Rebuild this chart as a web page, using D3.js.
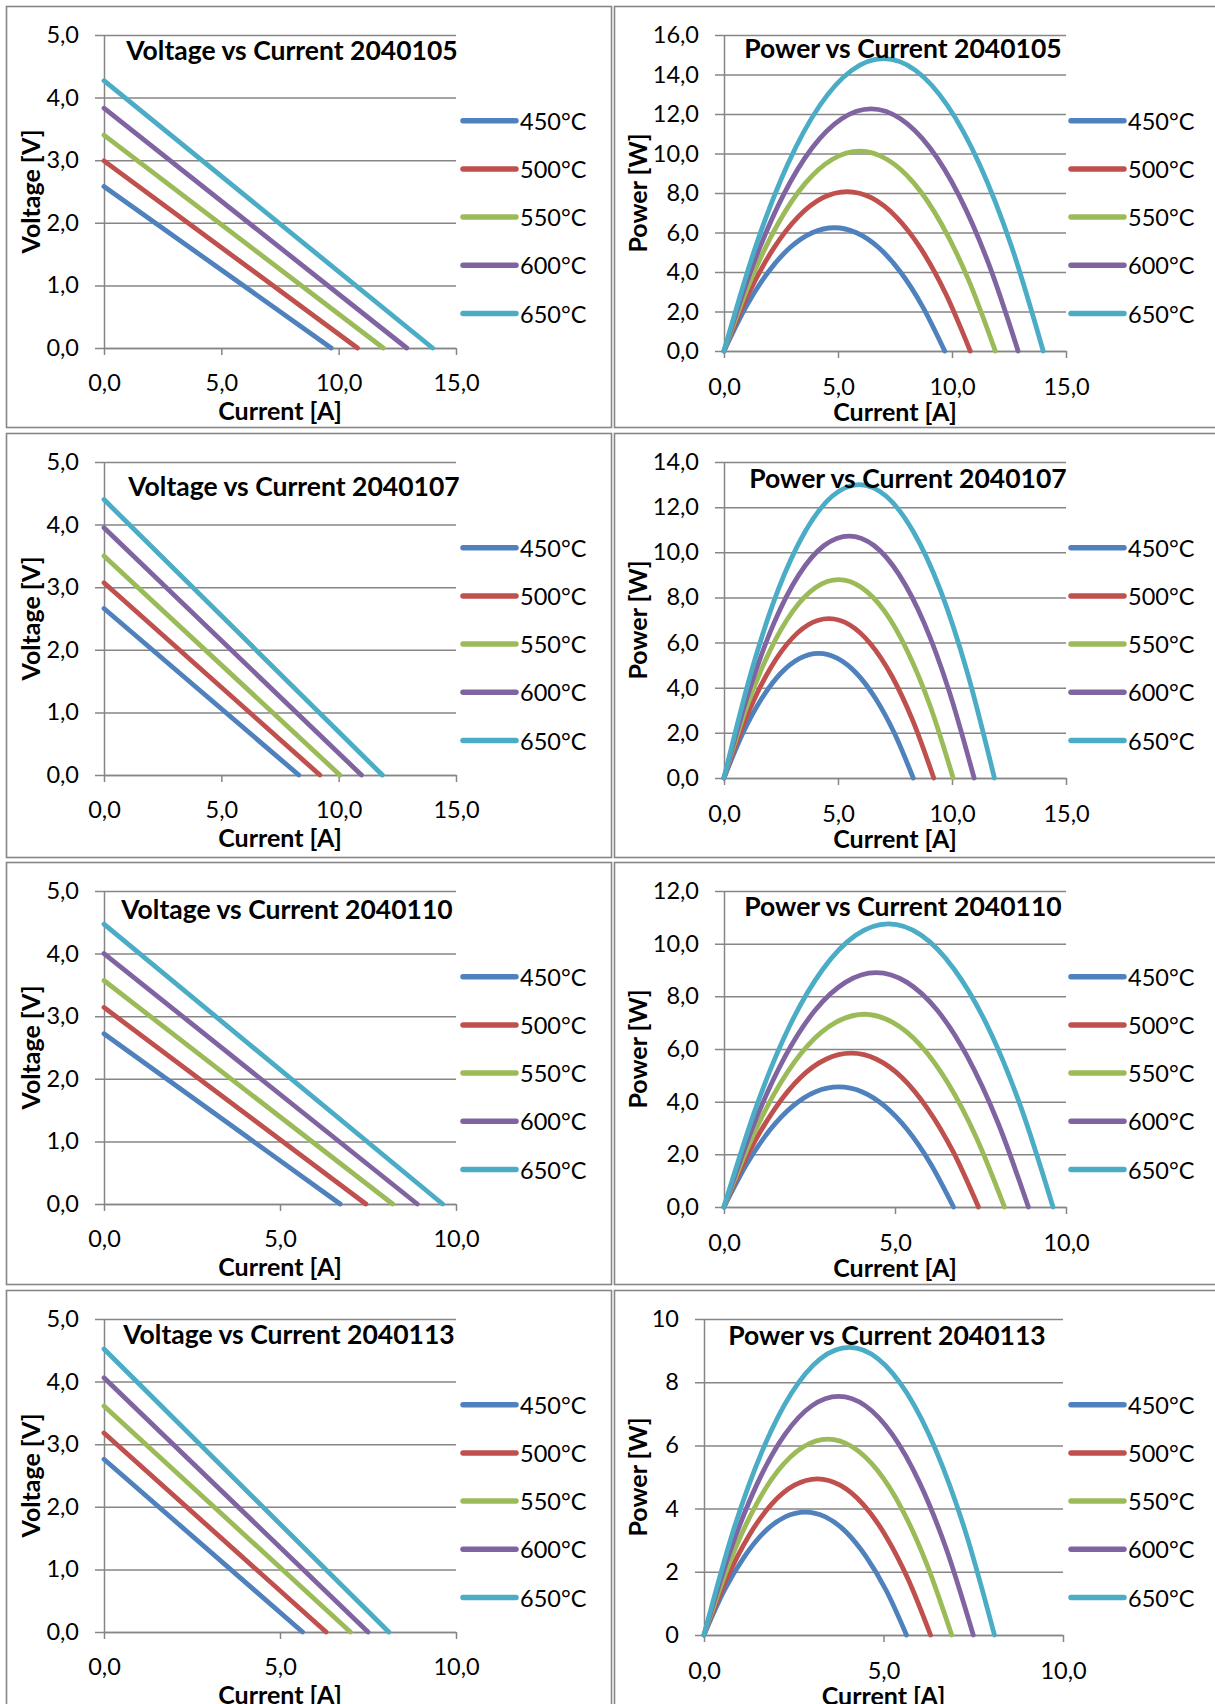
<!DOCTYPE html>
<html>
<head>
<meta charset="utf-8">
<script src="https://cdn.jsdelivr.net/npm/d3@7/dist/d3.min.js"></script>
<style>
  body { margin: 0; background: #fff; }
  text { font-family: Lato, "Open Sans", sans-serif; }
</style>
</head>
<body>
<svg id="chart" width="1215" height="1704"></svg>
<script>
// ---------------- DATA ----------------
const temperatures = ["450°C", "500°C", "550°C", "600°C", "650°C"];
const samples = ["2040105", "2040107", "2040110", "2040113"];

// Voltage vs Current: voltage at I = 0 and current at V = 0 (straight lines)
const voc_2040105 = [2.58, 2.99, 3.40, 3.83, 4.27];
const isc_2040105 = [9.68, 10.8, 11.9, 12.9, 14.0];
const voc_2040107 = [2.66, 3.07, 3.50, 3.95, 4.40];
const isc_2040107 = [8.30, 9.20, 10.05, 10.97, 11.86];
const voc_2040110 = [2.72, 3.14, 3.57, 4.00, 4.47];
const isc_2040110 = [6.71, 7.44, 8.20, 8.90, 9.62];
const voc_2040113 = [2.76, 3.18, 3.61, 4.06, 4.52];
const isc_2040113 = [5.64, 6.31, 7.00, 7.50, 8.09];

// Power vs Current: current [A] and power [W] points per temperature
const current_2040105 = [
  [0, 0.97, 1.94, 2.90, 3.87, 4.84, 5.81, 6.78, 7.74, 8.71, 9.68],
  [0, 1.08, 2.16, 3.24, 4.32, 5.40, 6.48, 7.56, 8.64, 9.72, 10.8],
  [0, 1.19, 2.38, 3.57, 4.76, 5.95, 7.14, 8.33, 9.52, 10.71, 11.9],
  [0, 1.29, 2.58, 3.87, 5.16, 6.45, 7.74, 9.03, 10.32, 11.61, 12.9],
  [0, 1.40, 2.80, 4.20, 5.60, 7.00, 8.40, 9.80, 11.2, 12.6, 14.0]
];
const power_2040105 = [
  [0, 2.25, 4.00, 5.24, 5.99, 6.24, 5.99, 5.24, 4.00, 2.25, 0],
  [0, 2.91, 5.17, 6.78, 7.75, 8.07, 7.75, 6.78, 5.17, 2.91, 0],
  [0, 3.64, 6.47, 8.50, 9.71, 10.12, 9.71, 8.50, 6.47, 3.64, 0],
  [0, 4.41, 7.84, 10.29, 11.76, 12.26, 11.76, 10.29, 7.84, 4.41, 0],
  [0, 5.33, 9.47, 12.43, 14.21, 14.80, 14.21, 12.43, 9.47, 5.33, 0]
];
const current_2040107 = [
  [0, 0.83, 1.66, 2.49, 3.32, 4.15, 4.98, 5.81, 6.64, 7.47, 8.30],
  [0, 0.92, 1.84, 2.76, 3.68, 4.60, 5.52, 6.44, 7.36, 8.28, 9.20],
  [0, 1.00, 2.01, 3.02, 4.02, 5.03, 6.03, 7.04, 8.04, 9.05, 10.05],
  [0, 1.10, 2.19, 3.29, 4.39, 5.49, 6.58, 7.68, 8.78, 9.87, 10.97],
  [0, 1.19, 2.37, 3.56, 4.74, 5.93, 7.12, 8.30, 9.49, 10.67, 11.86]
];
const power_2040107 = [
  [0, 1.99, 3.53, 4.64, 5.30, 5.52, 5.30, 4.64, 3.53, 1.99, 0],
  [0, 2.54, 4.52, 5.93, 6.78, 7.06, 6.78, 5.93, 4.52, 2.54, 0],
  [0, 3.17, 5.63, 7.39, 8.44, 8.79, 8.44, 7.39, 5.63, 3.17, 0],
  [0, 3.86, 6.86, 9.01, 10.30, 10.72, 10.30, 9.01, 6.86, 3.86, 0],
  [0, 4.68, 8.32, 10.92, 12.48, 13.00, 12.48, 10.92, 8.32, 4.68, 0]
];
const current_2040110 = [
  [0, 0.67, 1.34, 2.01, 2.68, 3.36, 4.03, 4.70, 5.37, 6.04, 6.71],
  [0, 0.74, 1.49, 2.23, 2.98, 3.72, 4.46, 5.21, 5.95, 6.70, 7.44],
  [0, 0.82, 1.64, 2.46, 3.28, 4.10, 4.92, 5.74, 6.56, 7.38, 8.20],
  [0, 0.89, 1.78, 2.67, 3.56, 4.45, 5.34, 6.23, 7.12, 8.01, 8.90],
  [0, 0.96, 1.92, 2.89, 3.85, 4.81, 5.77, 6.73, 7.70, 8.66, 9.62]
];
const power_2040110 = [
  [0, 1.64, 2.92, 3.83, 4.38, 4.56, 4.38, 3.83, 2.92, 1.64, 0],
  [0, 2.10, 3.74, 4.91, 5.61, 5.84, 5.61, 4.91, 3.74, 2.10, 0],
  [0, 2.63, 4.68, 6.15, 7.02, 7.32, 7.02, 6.15, 4.68, 2.63, 0],
  [0, 3.20, 5.70, 7.48, 8.54, 8.90, 8.54, 7.48, 5.70, 3.20, 0],
  [0, 3.87, 6.88, 9.03, 10.32, 10.75, 10.32, 9.03, 6.88, 3.87, 0]
];
const current_2040113 = [
  [0, 0.56, 1.13, 1.69, 2.26, 2.82, 3.38, 3.95, 4.51, 5.08, 5.64],
  [0, 0.63, 1.26, 1.89, 2.52, 3.16, 3.79, 4.42, 5.05, 5.68, 6.31],
  [0, 0.69, 1.38, 2.07, 2.76, 3.45, 4.14, 4.83, 5.52, 6.21, 6.90],
  [0, 0.75, 1.50, 2.25, 3.00, 3.75, 4.50, 5.25, 6.00, 6.75, 7.50],
  [0, 0.81, 1.62, 2.43, 3.24, 4.05, 4.85, 5.66, 6.47, 7.28, 8.09]
];
const power_2040113 = [
  [0, 1.40, 2.49, 3.27, 3.74, 3.89, 3.74, 3.27, 2.49, 1.40, 0],
  [0, 1.78, 3.16, 4.15, 4.74, 4.94, 4.74, 4.15, 3.16, 1.78, 0],
  [0, 2.23, 3.97, 5.21, 5.95, 6.20, 5.95, 5.21, 3.97, 2.23, 0],
  [0, 2.72, 4.83, 6.34, 7.25, 7.55, 7.25, 6.34, 4.83, 2.72, 0],
  [0, 3.28, 5.82, 7.64, 8.74, 9.10, 8.74, 7.64, 5.82, 3.28, 0]
];

// Tick values
const voltageTicks = [0, 1, 2, 3, 4, 5];
const currentTicks15 = [0, 5, 10, 15];
const currentTicks10 = [0, 5, 10];
const powerTicks_2040105 = [0, 2, 4, 6, 8, 10, 12, 14, 16];
const powerTicks_2040107 = [0, 2, 4, 6, 8, 10, 12, 14];
const powerTicks_2040110 = [0, 2, 4, 6, 8, 10, 12];
const powerTicks_2040113 = [0, 2, 4, 6, 8, 10];

// ---------------- STYLE / LAYOUT ----------------
const seriesColors = ["#4F81BD", "#C0504D", "#9BBB59", "#8064A2", "#4BACC6"];
const GRID = "#868686";
const comma1 = d3.formatLocale({decimal: ",", thousands: ".", grouping: [3], currency: ["", ""]}).format(".1f");
const int0 = d3.format("d");

const svg = d3.select("#chart");
const rowTops = [6, 433, 862, 1290];
const rowHeights = [421, 424, 422, 440];

const vocs = [voc_2040105, voc_2040107, voc_2040110, voc_2040113];
const iscs = [isc_2040105, isc_2040107, isc_2040110, isc_2040113];
const currents = [current_2040105, current_2040107, current_2040110, current_2040113];
const powers = [power_2040105, power_2040107, power_2040110, power_2040113];
const powerTicks = [powerTicks_2040105, powerTicks_2040107, powerTicks_2040110, powerTicks_2040113];
const currentTicks = [currentTicks15, currentTicks15, currentTicks10, currentTicks10];

const leftTitlePos = [[292, 44], [294, 53], [287, 47], [289, 44]];
const rightTitlePos = [[903, 42], [908, 45], [903, 44], [887, 45]];

function drawChart(o) {
  const g = svg.append("g");
  const x = d3.scaleLinear().domain([0, d3.max(o.xTicks)]).range([o.left, o.right]);
  const y = d3.scaleLinear().domain([0, d3.max(o.yTicks)]).range([o.bottom, o.top]);

  // gridlines (extend left past axis as tick marks)
  const grid = g.append("g").attr("transform", `translate(${o.right},0)`)
    .call(d3.axisLeft(y).tickValues(o.yTicks).tickSize(o.right - o.left + 9).tickFormat(""));
  grid.select(".domain").remove();
  grid.selectAll("line").attr("stroke", GRID).attr("stroke-width", 1.5);

  // y axis
  const ya = g.append("g").attr("transform", `translate(${o.left},0)`)
    .call(d3.axisLeft(y).tickValues(o.yTicks).tickSize(0).tickSizeOuter(0).tickPadding(25).tickFormat(o.yFmt));
  ya.select(".domain").attr("stroke", GRID).attr("stroke-width", 1.5);
  ya.selectAll("text").attr("font-size", 23.5).attr("fill", "#000").attr("font-family", "Lato");

  // x axis
  const xa = g.append("g").attr("transform", `translate(0,${o.bottom})`)
    .call(d3.axisBottom(x).tickValues(o.xTicks).tickSize(7).tickSizeOuter(0).tickPadding(o.xPad).tickFormat(comma1));
  xa.select(".domain").attr("stroke", GRID).attr("stroke-width", 1.5);
  xa.selectAll("line").attr("stroke", GRID).attr("stroke-width", 1.5);
  xa.selectAll("text").attr("font-size", 23.5).attr("fill", "#000").attr("font-family", "Lato");

  // series
  const line = d3.line().x(d => x(d[0])).y(d => y(d[1])).curve(o.curve);
  g.append("g").selectAll("path").data(o.series).join("path")
    .attr("d", d => line(d))
    .attr("fill", "none")
    .attr("stroke", (d, i) => seriesColors[i])
    .attr("stroke-width", 4.8)
    .attr("stroke-linecap", "round")
    .attr("stroke-linejoin", "round");

  // title
  g.append("text").attr("x", o.titleX).attr("y", o.titleY)
    .attr("text-anchor", "middle").attr("dominant-baseline", "central")
    .attr("font-size", 26.5).attr("font-weight", "bold").text(o.title);

  // axis titles
  g.append("text").attr("x", (o.left + o.right) / 2).attr("y", o.bottom + o.xTitleOff)
    .attr("text-anchor", "middle").attr("dominant-baseline", "central")
    .attr("font-size", 25).attr("font-weight", "bold").text("Current [A]");
  g.append("text")
    .attr("transform", `translate(${o.yTitleX},${(o.top + o.bottom) / 2}) rotate(-90)`)
    .attr("text-anchor", "middle").attr("dominant-baseline", "central")
    .attr("font-size", 25).attr("font-weight", "bold").text(o.yTitle);

  // legend
  const lg = g.append("g");
  temperatures.forEach((t, i) => {
    const ly = o.legendY + i * 48.2;
    lg.append("line").attr("x1", o.legendX).attr("x2", o.legendX + 53)
      .attr("y1", ly).attr("y2", ly)
      .attr("stroke", seriesColors[i]).attr("stroke-width", 5.5).attr("stroke-linecap", "round");
    lg.append("text").attr("x", o.legendX + 57).attr("y", ly)
      .attr("dominant-baseline", "central").attr("font-size", 23.5).text(t);
  });
}

samples.forEach((s, r) => {
  const top = rowTops[r];
  // panel frames
  svg.append("rect").attr("x", 6.5).attr("y", top + 0.5).attr("width", 605).attr("height", rowHeights[r])
    .attr("fill", "#fff").attr("stroke", GRID).attr("stroke-width", 1.6);
  svg.append("rect").attr("x", 614.5).attr("y", top + 0.5).attr("width", 610).attr("height", rowHeights[r])
    .attr("fill", "#fff").attr("stroke", GRID).attr("stroke-width", 1.6);

  // Voltage vs Current
  const viSeries = vocs[r].map((v, i) => [[0, v], [iscs[r][i], 0]]);
  drawChart({
    left: 104, right: 456, top: top + 29, bottom: top + 342,
    xTicks: currentTicks[r], yTicks: voltageTicks, yFmt: comma1,
    series: viSeries, curve: d3.curveLinear,
    title: "Voltage vs Current " + s,
    titleX: leftTitlePos[r][0], titleY: top + leftTitlePos[r][1],
    yTitle: "Voltage [V]", yTitleX: 30, xPad: 19, xTitleOff: 62,
    legendX: 463, legendY: top + 114.7
  });

  // Power vs Current
  const piSeries = currents[r].map((cs, i) => cs.map((c, k) => [c, powers[r][i][k]]));
  const isLast = r === 3;
  drawChart({
    left: isLast ? 704 : 724, right: isLast ? 1063 : 1066, top: top + 29, bottom: top + 345,
    xTicks: currentTicks[r], yTicks: powerTicks[r], yFmt: isLast ? int0 : comma1,
    series: piSeries, curve: d3.curveMonotoneX,
    title: "Power vs Current " + s,
    titleX: rightTitlePos[r][0], titleY: top + rightTitlePos[r][1],
    yTitle: "Power [W]", yTitleX: 637, xPad: 20, xTitleOff: 60,
    legendX: 1071, legendY: top + 114.7
  });
});
</script>
</body>
</html>
